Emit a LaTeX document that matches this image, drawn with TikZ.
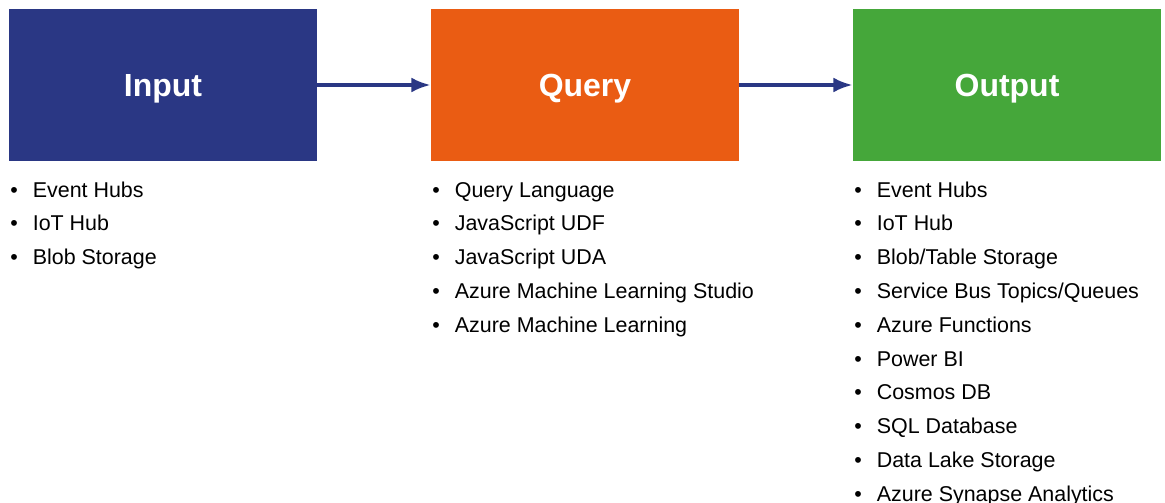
\documentclass[tikz,border=0pt]{standalone}
\usepackage{fontspec}
\setmainfont{Liberation Sans}
\usepackage{tikz}
\usetikzlibrary{arrows.meta}

\definecolor{inblue}{HTML}{2A3784}
\definecolor{qorange}{HTML}{EA5C13}
\definecolor{outgreen}{HTML}{45A73A}

\begin{document}
\begin{tikzpicture}[
  x=0.02cm, y=-0.02cm,
  >=Latex,
  stagebox/.style={draw=none,minimum width=6.16cm,minimum height=3.04cm,
                   inner sep=0pt,text=white,text height=13pt,text depth=0pt,
                   font=\fontsize{18.2}{20}\selectfont\bfseries},
  listitem/.style={anchor=base west,inner sep=0pt,font=\fontsize{12.2}{14}\selectfont},
  flow/.style={-{Latex[length=11pt,width=8.5pt]},inblue,line width=2pt}
]
 \useasboundingbox (0,0) rectangle (1165,503);
 \node[stagebox,fill=inblue] (input) at (163,85) {Input};
 \node[stagebox,fill=qorange] (query) at (585,85) {Query};
 \node[stagebox,fill=outgreen] (output) at (1007,85) {Output};
 \draw[flow] (input.east) -- (query.west);
 \draw[flow] (query.east) -- (output.west);
 % bullet lists
 \foreach \txt [count=\i] in {Event Hubs,IoT Hub,Blob Storage}
   \node[listitem] (in\i) at (10,{197+33.8*(\i-1)})
        {\makebox[12.8pt][l]{\textbullet}\txt};
 \foreach \txt [count=\i] in {Query Language,JavaScript UDF,JavaScript UDA,
     Azure Machine Learning Studio,Azure Machine Learning}
   \node[listitem] (q\i) at (432,{197+33.8*(\i-1)})
        {\makebox[12.8pt][l]{\textbullet}\txt};
 \foreach \txt [count=\i] in {Event Hubs,IoT Hub,Blob/Table Storage,
     Service Bus Topics/Queues,Azure Functions,Power BI,Cosmos DB,
     SQL Database,Data Lake Storage,Azure Synapse Analytics}
   \node[listitem] (out\i) at (854,{197+33.8*(\i-1)})
        {\makebox[12.8pt][l]{\textbullet}\txt};
\end{tikzpicture}
\end{document}
